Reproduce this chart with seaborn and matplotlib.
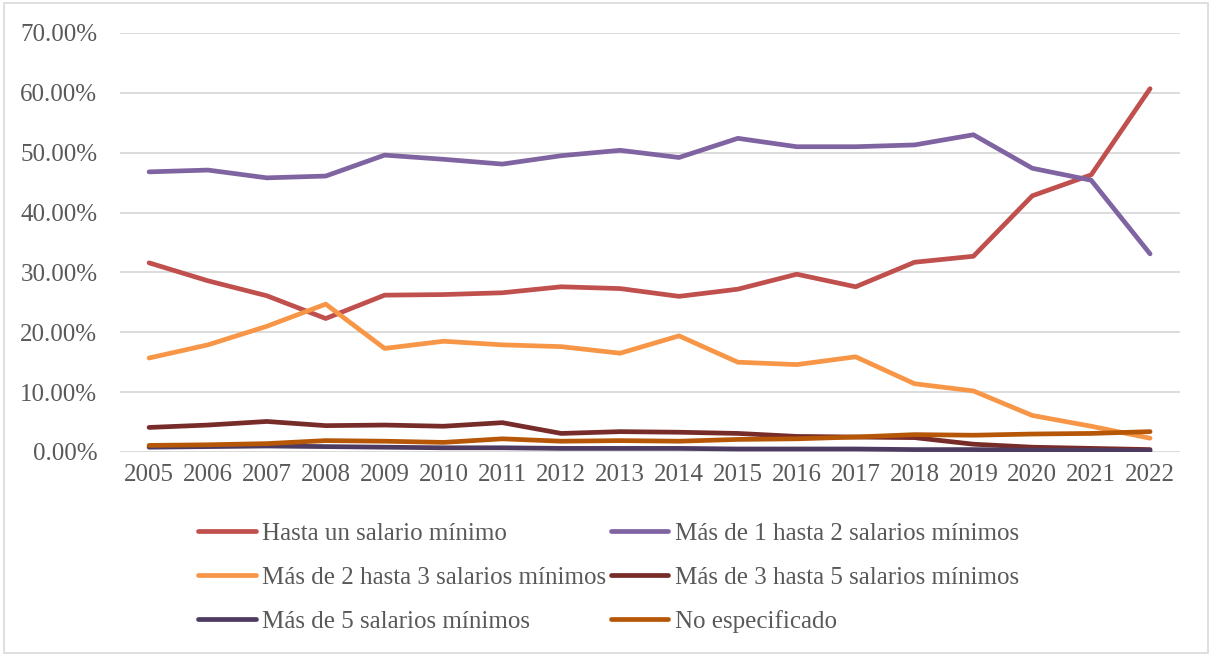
import pandas as pd
import matplotlib
matplotlib.use("Agg")
import matplotlib.pyplot as plt
import seaborn as sns
from matplotlib.ticker import PercentFormatter

# ------------------- DATOS ------------------- #

years = list(range(2005, 2023))

hasta_1 = [31.6, 28.6, 26.1, 22.3, 26.2, 26.3, 26.6, 27.6, 27.3, 26.0, 27.2, 29.7, 27.6, 31.7, 32.7, 42.8, 46.3, 60.7]
de_1_a_2 = [46.8, 47.1, 45.8, 46.1, 49.6, 48.9, 48.1, 49.5, 50.4, 49.2, 52.4, 51.0, 51.0, 51.3, 53.0, 47.4, 45.4, 33.1]
de_2_a_3 = [15.7, 17.9, 21.0, 24.7, 17.3, 18.5, 17.9, 17.6, 16.5, 19.4, 15.0, 14.6, 15.9, 11.4, 10.2, 6.1, 4.3, 2.3]
de_3_a_5 = [4.1, 4.5, 5.1, 4.4, 4.5, 4.3, 4.9, 3.1, 3.4, 3.3, 3.1, 2.6, 2.5, 2.4, 1.3, 0.8, 0.6, 0.4]
mas_de_5 = [0.8, 0.9, 1.0, 0.9, 0.8, 0.7, 0.7, 0.6, 0.6, 0.6, 0.5, 0.5, 0.5, 0.4, 0.4, 0.3, 0.3, 0.2]
no_espec = [1.1, 1.2, 1.4, 1.9, 1.8, 1.6, 2.2, 1.8, 1.9, 1.8, 2.1, 2.2, 2.5, 2.9, 2.8, 3.0, 3.1, 3.4]

series = {
    "Hasta un salario mínimo": hasta_1,
    "Más de 1 hasta 2 salarios mínimos": de_1_a_2,
    "Más de 2 hasta 3 salarios mínimos": de_2_a_3,
    "Más de 3 hasta 5 salarios mínimos": de_3_a_5,
    "Más de 5 salarios mínimos": mas_de_5,
    "No especificado": no_espec,
}

colores = {
    "Hasta un salario mínimo": "#C0504D",
    "Más de 1 hasta 2 salarios mínimos": "#8064A2",
    "Más de 2 hasta 3 salarios mínimos": "#F79646",
    "Más de 3 hasta 5 salarios mínimos": "#772C2A",
    "Más de 5 salarios mínimos": "#4D3B62",
    "No especificado": "#B65708",
}

df = pd.DataFrame(
    [(y, nombre, v) for nombre, vals in series.items() for y, v in zip(years, vals)],
    columns=["Año", "Categoria", "Valor"],
)

# ------------------- GRÁFICA ------------------- #

sns.set_style("white")
plt.rcParams["font.family"] = ["Liberation Serif", "DejaVu Serif"]
gris = "#595959"

fig = plt.figure(figsize=(12.12, 6.56), dpi=100)
ax = fig.add_axes([0.0987, 0.311, 0.8745, 0.6387])

orden = list(series.keys())
sns.lineplot(
    data=df, x="Año", y="Valor", hue="Categoria", hue_order=orden,
    palette=colores, linewidth=3.4, ax=ax, legend=False,
    solid_capstyle="round",
)

ax.set_xlim(2004.5, 2022.5)
ax.set_ylim(0, 70)
ax.set_xticks(years)
ax.set_yticks(range(0, 71, 10))
ax.yaxis.set_major_formatter(PercentFormatter(100, decimals=2))
ax.set_xlabel("")
ax.set_ylabel("")
ax.grid(axis="y", color="#D9D9D9", linewidth=1.3)
ax.set_axisbelow(True)
for s in ax.spines.values():
    s.set_visible(False)
ax.tick_params(axis="y", length=0, pad=16, labelsize=18, labelcolor=gris)
ax.tick_params(axis="x", length=0, pad=9, labelsize=18, labelcolor=gris)

# Leyenda en dos columnas debajo
handles = [plt.Line2D([], [], color=colores[n], linewidth=3.4, solid_capstyle="round") for n in orden]
orden_leyenda = [0, 2, 4, 1, 3, 5]
fig.legend(
    [handles[i] for i in orden_leyenda], [orden[i] for i in orden_leyenda],
    ncol=2, loc="center", bbox_to_anchor=(0.502, 0.119), frameon=False,
    fontsize=18, labelcolor=gris, handlelength=2.3, handletextpad=0.25,
    columnspacing=0.2, labelspacing=0.85,
)

# Borde del gráfico
fig.patches.append(plt.Rectangle((0.003, 0.005), 0.994, 0.99, transform=fig.transFigure,
                                 fill=False, edgecolor="#D9D9D9", linewidth=1.2))

plt.savefig("out.png", dpi=100)
plt.close()
